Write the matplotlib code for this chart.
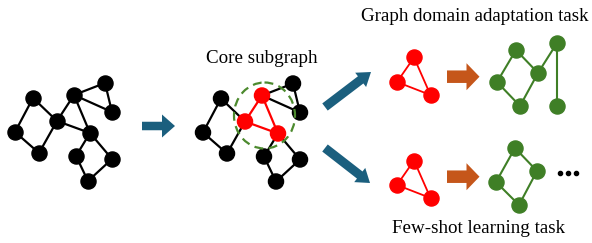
import matplotlib.pyplot as plt
from matplotlib.patches import FancyArrow, Ellipse

# base graph (pixel coordinates of the left graph)
nodes = [(33, 98), (74, 95), (105, 83), (112, 112), (57, 121), (15, 132),
         (90, 133), (39, 153), (76, 156), (112, 159), (88, 181)]
edges = [(0, 4), (0, 5), (5, 7), (7, 4), (4, 1), (4, 6), (1, 2), (1, 3),
         (2, 3), (1, 6), (6, 8), (6, 9), (9, 10), (10, 8)]
core = [1, 4, 6]          # nodes of the core subgraph
shift2 = (188, 0.5)       # second copy of the graph

# red triangles (core subgraph), left node first
tri = [(0, 0), (17, -24.5), (33.5, 13)]
tri_pos = [(397, 82), (397, 185)]

# green graphs
g1_nodes = [(497, 82), (516, 50), (538, 73), (557, 43), (520, 106), (557, 106)]
g1_edges = [(0, 1), (1, 2), (2, 3), (3, 5), (2, 4), (4, 0)]
g2_nodes = [(496, 182), (515, 148), (537, 171), (519, 205)]
g2_edges = [(0, 1), (1, 2), (2, 3), (3, 0)]

blue = '#1b5f7e'
orange = '#c5561a'
green = '#3f7f26'
red = '#ff0000'
ns = 118  # node size

fig = plt.figure(figsize=(5.92, 2.43), dpi=100)
ax = fig.add_axes([0, 0, 1, 1])
ax.set_xlim(0, 592)
ax.set_ylim(243, 0)
ax.axis('off')


def draw(pts, eds, col, lw, ecol=None):
    for i, j in eds:
        c = col if ecol is None else ecol(i, j)
        ax.plot([pts[i][0], pts[j][0]], [pts[i][1], pts[j][1]], color=c, lw=lw, zorder=1)


# left graph
draw(nodes, edges, 'black', 1.6)
ax.scatter([p[0] for p in nodes], [p[1] for p in nodes], s=ns, color='black', zorder=2)

# graph with core subgraph
n2 = [(x + shift2[0], y + shift2[1]) for x, y in nodes]
draw(n2, edges, 'black', 1.6,
     ecol=lambda i, j: red if (i in core and j in core) else 'black')
ax.scatter([p[0] for p in n2], [p[1] for p in n2], s=ns,
           color=[red if k in core else 'black' for k in range(len(n2))], zorder=2)
ax.add_patch(Ellipse((264.5, 115.5), 61, 66, fill=False, ls=(0, (4, 2.5)),
                     ec='#4c8a2e', lw=1.6, zorder=3))

# red triangles
for tx, ty in tri_pos:
    pts = [(tx + dx, ty + dy) for dx, dy in tri]
    draw(pts, [(0, 1), (1, 2), (2, 0)], red, 1.3)
    ax.scatter([p[0] for p in pts], [p[1] for p in pts], s=ns, color=red, zorder=2)

# green graphs
for pts, eds in [(g1_nodes, g1_edges), (g2_nodes, g2_edges)]:
    draw(pts, eds, green, 1.5)
    ax.scatter([p[0] for p in pts], [p[1] for p in pts], s=ns, color=green, zorder=2)

# arrows
ax.add_patch(FancyArrow(142, 126, 33, 0, width=8.5, head_width=23, head_length=13,
                        length_includes_head=True, color=blue, lw=0))
ax.add_patch(FancyArrow(325, 107, 46, -35, width=9, head_width=18, head_length=13,
                        length_includes_head=True, color=blue, lw=0))
ax.add_patch(FancyArrow(325, 148, 45, 35, width=9, head_width=18, head_length=13,
                        length_includes_head=True, color=blue, lw=0))
for y in [76.7, 176.7]:
    ax.add_patch(FancyArrow(447, y, 32.5, 0, width=12.5, head_width=27, head_length=13,
                            length_includes_head=True, color=orange, lw=0))

# ellipsis
ax.scatter([560, 568, 576], [173, 173, 173], s=9, color='black')

# text
font = dict(family='Liberation Serif', fontsize=13.7, color='black', ha='center', va='baseline')
ax.text(262, 63, 'Core subgraph', **font)
ax.text(475, 21, 'Graph domain adaptation task', **font)
ax.text(479, 233, 'Few-shot learning task', **font)

plt.savefig('out.png', dpi=100)
